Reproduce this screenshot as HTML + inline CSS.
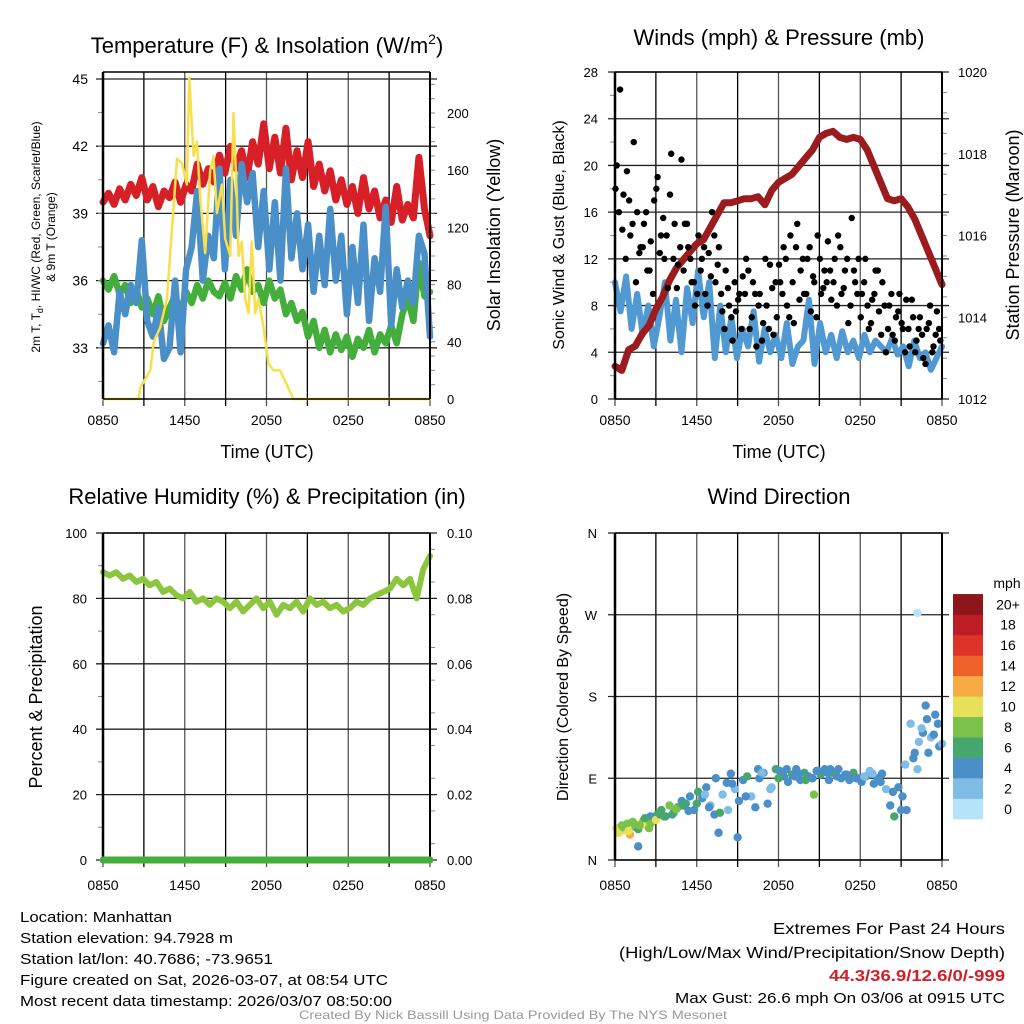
<!DOCTYPE html>
<html><head><meta charset="utf-8"><style>
html,body{margin:0;padding:0;background:#fff}
svg{display:block;font-family:"Liberation Sans",sans-serif}
</style></head><body>
<svg id="s" width="1024" height="1024" viewBox="0 0 1024 1024" xmlns="http://www.w3.org/2000/svg">
<rect width="1024" height="1024" fill="#fff"/>
<g id="g"></g>
</svg>
<script>
// ---- data ----
const xTickLabels = ["0850","1450","2050","0250","0850"];
const tempTicks = [45,42,39,36,33];
const solarTicks = [0,40,80,120,160,200];
const tempRed = [39.5,39.9,39.4,40.1,39.6,40.3,39.8,40.6,39.6,40.2,39.3,40.0,39.7,40.4,39.5,40.3,40.0,41.2,40.3,41.0,40.4,41.6,40.8,42.0,41.0,41.8,40.6,42.2,41.2,43.0,41.0,42.4,40.8,42.8,40.5,41.8,40.6,42.2,40.2,41.2,40.0,40.9,39.6,40.5,39.4,40.2,39.0,40.6,39.2,40.0,38.8,39.6,38.6,40.2,38.7,39.4,38.8,41.5,39.2,38.0];
const tempBlue = [33.2,34.0,32.8,35.5,34.5,35.8,35.0,37.8,34.2,33.5,34.8,32.5,33.0,36.0,32.8,36.5,37.5,40.0,36.0,38.0,37.0,41.0,36.5,40.5,38.0,41.2,39.5,40.8,37.5,40.0,36.5,39.5,36.0,41.0,37.0,39.0,36.5,38.5,35.5,38.0,35.8,39.2,36.0,38.0,34.5,37.5,35.0,38.5,34.2,37.0,35.5,39.3,34.0,36.5,34.8,36.0,35.0,38.0,37.2,33.5];
const dewGreen = [36.0,35.6,36.2,35.4,35.8,35.0,35.6,34.8,35.2,34.5,35.3,34.2,34.8,35.3,34.6,35.5,35.0,35.8,35.2,36.0,35.5,35.3,35.9,35.2,36.2,35.6,36.5,35.5,35.8,35.0,36.0,35.2,35.6,34.5,35.0,34.2,34.6,33.5,34.2,33.0,33.8,32.8,33.6,32.9,33.5,32.6,33.4,33.0,33.8,32.8,33.6,33.2,34.0,33.2,34.5,35.2,34.2,36.8,35.3,35.5];
const solarHours = [0,2.6,2.74,3.47,3.72,4.2,4.69,5.06,5.43,5.79,6.16,6.33,6.65,6.89,7.14,7.5,7.87,8.11,8.36,8.73,8.97,9.34,9.58,9.83,9.95,10.19,10.44,10.68,10.92,11.17,11.41,11.78,12.15,12.51,13.0,13.49,13.98,24];
const solarVals = [0,0,8,20,40,50,70,118,168,165,150,225,170,180,140,102,160,170,130,150,112,100,200,140,100,110,70,60,110,60,70,50,25,20,20,10,0,0];
const windTicks = [0,4,8,12,16,20,24,28];
const presTicks = [1012,1014,1016,1018,1020];
const windBlue = [10.0,7.5,10.5,6.0,9.0,5.5,8.0,4.5,7.0,10.0,5.0,8.5,4.0,9.5,6.5,11.0,7.0,10.0,3.5,8.0,4.0,7.0,3.5,6.0,4.5,7.5,3.2,6.0,4.0,5.5,3.5,6.5,3.0,4.5,5.0,8.5,3.0,6.5,4.0,5.5,3.5,5.8,4.0,5.0,3.5,5.5,4.0,5.0,4.5,4.0,5.2,3.8,4.5,2.8,5.0,3.5,4.0,2.5,3.5,4.5];
const pressure = [1012.8,1012.7,1013.2,1013.3,1013.6,1013.8,1014.2,1014.5,1014.9,1015.2,1015.4,1015.6,1015.8,1015.9,1016.2,1016.5,1016.8,1016.8,1016.85,1016.9,1016.9,1016.95,1016.75,1017.1,1017.3,1017.4,1017.5,1017.7,1017.9,1018.1,1018.4,1018.5,1018.55,1018.4,1018.35,1018.4,1018.35,1018.1,1017.7,1017.3,1016.9,1016.85,1016.9,1016.7,1016.4,1016.0,1015.6,1015.2,1014.8];
const gusts = [20,26.5,17.5,19.5,14,22,16,13, 15,11,13.5,17,19,14,12,9.5, 21,15,11.5,20.5,15,13,10,8, 14,12,9,12.5,16,10,13,7.5, 11,8,5,7.5,9,10.5,12,6, 10,4.5,9,6.5,8,11.5,5.5,7, 10,13,8,14,6.5,15,11,9, 12,7.5,10,14,9,11,13.5,8.5, 12,14,9,11,6.5,15.5,10,12, 9,12,6,8.5,11,7.5,10,4, 8,5.5,7,9,6,8.5,4.5,7, 5,7,3.5,6,8,4.5,7.5,5];
const gusts2 = [18,16,14.5,12,17,15,10,12.5, 13,16,11,9,18,12.5,15.5,14, 17.5,12,9.5,13,11,15,12,10, 9,11,13,8,10.5,14,11.5,9, 6,9.5,7,10,8.5,6,9,11, 7,9,8,5,12,6,9.5,10, 11.5,9,12,7,10,13,8.5,12, 9,13,10.5,7,12,9.5,10,11, 10,8,13,9.5,12,8,11,9, 7,10,8,6.5,9,11,5.5,8, 6,9,5,7.5,6.5,4,6,8.5, 4,6,5.5,3,6.5,4,5.5,6];
const rhTicks = [0,20,40,60,80,100];
const precipTicks = ["0.00","0.02","0.04","0.06","0.08","0.10"];
const rh = [88,87,88,86,87,85,86,84,85,82,83,81,80,82,79,80,78,80,79,77,79,76,78,80,77,79,75,78,77,79,76,80,78,79,77,78,76,77,79,78,80,81,82,83,86,84,86,80,89,93];
const dirLabels = ["N","E","S","W","N"];
const dirHours = [0.1,0.3,0.5,0.7,0.9,1.1,1.3,1.5,1.7,1.9,2.1,2.3,2.5,2.7,2.9,3.1,3.4,3.7,4.0,4.3,4.6,4.9,5.2,5.5,5.8,6.1,6.4,6.7,7.0,7.3,7.6,7.9,8.2,8.5,8.8,9.1,9.4,9.7,10.0,10.3,10.6,10.9,11.2,11.5,11.8,12.1,12.4,12.7,13.0,13.3,13.6,13.9,14.2,14.5,14.8,15.1,15.4,15.7,16.0,16.3,16.6,16.9,17.2,17.5,17.8,18.1,18.4,18.7,19.0,19.3,19.6,19.9,20.2,20.5,20.8,21.1,21.4,21.7,22.0,22.3,22.6,22.9,23.2,23.5,23.8,1.7,2.6,4.2,5.1,6.6,7.4,8.3,9.0,10.5,11.4,13.5,14.6,15.8,17.1,18.9,21.0,22.2,23.0,0.2,0.6,1.0,1.4,1.8,2.2,2.6,3.0,3.3,3.6,4.5,5.0,5.4,6.0,6.9,7.7,8.6,9.6,10.8,12.0,12.6,13.2,14.0,14.9,15.6,16.4,17.0,17.7,18.3,19.5,20.4,21.3,21.9,22.5,22.8,23.4,23.7,24.0];
const dirVals = [35,30,38,33,40,28,42,36,34,40,44,38,35,42,45,50,55,48,60,52,58,65,62,70,55,75,68,80,60,50,30,72,85,95,78,65,88,92,70,58,90,96,62,80,100,98,92,86,94,100,88,96,92,90,98,94,100,88,96,92,90,94,88,96,90,86,92,98,84,90,95,78,60,48,80,70,55,150,118,130,140,155,135,160,125,15,48,50,60,72,90,55,25,100,78,95,72,100,92,95,55,100,118,30,36,32,40,38,46,40,44,50,48,56,60,54,62,58,52,84,70,96,90,100,92,88,98,96,100,94,90,92,86,75,105,112,145,170,138,150,128,140];
const dirSpeeds = [9,10,8,9,7,11,8,7,6,9,7,10,8,6,7,5,6,4,7,4,5,4,6,4,3,5,4,3,2,3,4,2,4,3,2,4,3,6,2,3,4,3,4,2,6,4,3,4,5,3,4,6,4,3,4,5,4,3,6,4,4,3,4,5,4,3,4,2,4,3,4,2,4,5,3,4,3,1,4,2,3,4,2,3,4,4,4,6,4,2,3,2,3,4,2,4,7,3,4,2,4,1,4,10,8,9,7,8,6,7,9,6,5,7,6,4,5,4,6,3,4,2,5,4,4,6,4,3,4,4,3,2,4,4,2,4,2,3,4,3,2];
const cbarLabels = ["0","2","4","6","8","10","12","14","16","18","20+"];
const cbarColors = ["#b5e4f8","#7fbce6","#4a8fc7","#47a66b","#7bc24a","#e6e05a","#f6ab45","#ee6129","#dd3328","#bd1d24","#8e1519"];

// ---- helpers ----
const NS="http://www.w3.org/2000/svg";
const G=document.getElementById('g');
function mk(tag,attrs,parent){const e=document.createElementNS(NS,tag);for(const k in attrs)e.setAttribute(k,attrs[k]);(parent||G).appendChild(e);return e;}
function txt(x,y,s,size,anchor,name,extra){const e=mk('text',Object.assign({x:x,y:y,'font-size':size,'text-anchor':anchor||'middle',fill:'#000'},extra||{}));e.textContent=s;


return e;}
function vtxt(x,y,s,size,name){return txt(x,y,s,size,'middle',name,{transform:'rotate(-90 '+x+' '+y+')'});}
function pathFrom(xs,ys){let d='';for(let i=0;i<xs.length;i++)d+=(i?'L':'M')+xs[i].toFixed(1)+' '+ys[i].toFixed(1);return d;}

function frame(X0,X1,Y0,Y1,hLines,name){
  const g=mk('g',{});
  
  
  for(let k=0;k<=8;k++){const x=X0+(X1-X0)*k/8;mk('line',{x1:x,x2:x,y1:Y0,y2:Y1+7,stroke:k%2?'#000':'#555','stroke-width':1.3},g);}
  hLines.forEach(y=>mk('line',{x1:X0-7,x2:X1+7,y1:y,y2:y,stroke:'#222','stroke-width':1.3},g));
  return g;
}
function border(X0,X1,Y0,Y1){mk('line',{x1:X0,x2:X0,y1:Y0,y2:Y1,stroke:'#000','stroke-width':2.5});mk('line',{x1:X1,x2:X1,y1:Y0,y2:Y1,stroke:'#000','stroke-width':2});mk('line',{x1:X0,x2:X1,y1:Y0,y2:Y0,stroke:'#000','stroke-width':1.5});mk('line',{x1:X0,x2:X1,y1:Y1,y2:Y1,stroke:'#000','stroke-width':1.5});}
function xlabels(X0,X1,y){xTickLabels.forEach((s,i)=>txt(X0+(X1-X0)*i/4,y,s,14,'middle','x-tick-label'));}
function series(d,color,w,name){const p=mk('path',{d:d,fill:'none',stroke:color,'stroke-width':w,'stroke-linejoin':'round','stroke-linecap':'round'});

}

// ---- Panel 1: temperature ----
{const X0=103,X1=430,Y1=399,Y0=72;
 const xs=h=>X0+(X1-X0)*h/24;
 const ty=t=>79+(45-t)*22.4;
 const sy=v=>Y1-v*(286/200);
 frame(X0,X1,Y0,Y1,tempTicks.map(ty),'temp-grid');
 for(let t=31.5;t<45;t+=1.5)mk('line',{x1:X0,x2:X0-5,y1:ty(t),y2:ty(t),stroke:'#888'});
 for(let v=10;v<=220;v+=10)mk('line',{x1:X1,x2:X1+5,y1:sy(v),y2:sy(v),stroke:'#888'});
 const ti=a=>a.map((_,i)=>xs(i*24/(a.length-1)));
 series(pathFrom(ti(dewGreen),dewGreen.map(ty)),'#44ae3c',6.5,'dewpoint-line');
 series(pathFrom(ti(tempRed),tempRed.map(ty)),'#d61f26',7,'temperature-line');
 series(pathFrom(ti(tempBlue),tempBlue.map(ty)),'#4a8fc7',6.5,'heat-index-line');
 series(pathFrom(solarHours.map(xs),solarVals.map(sy)),'#f9df4a',2.5,'insolation-line');
 border(X0,X1,Y0,Y1);
 tempTicks.forEach(t=>txt(88,ty(t)+5,String(t),14,'end','temp-tick-label'));
 solarTicks.forEach(v=>txt(447,sy(v)+5,String(v),13,'start','solar-tick-label'));
 xlabels(X0,X1,425);
 const t1=txt(267,53,'Temperature (F) & Insolation (W/m',22,'middle','temp-title');
 const sp=mk('tspan',{dy:-9,'font-size':14},t1);sp.textContent='2';
 const sp2=mk('tspan',{dy:9},t1);sp2.textContent=')';
 txt(267,458,'Time (UTC)',18,'middle','temp-x-title');
 vtxt(500,235,'Solar Insolation (Yellow)',18,'solar-y-title');
 const a=txt(40,237,'2m T, T',12,'middle','temp-y-title',{transform:'rotate(-90 40 237)'});
 const sb=mk('tspan',{dy:3,'font-size':9},a);sb.textContent='d';
 const sc=mk('tspan',{dy:-3},a);sc.textContent=', HI/WC (Red, Green, Scarlet/Blue)';
 txt(55,237,'& 9m T (Orange)',12,'middle','temp-y-title-2',{transform:'rotate(-90 55 237)'});
}

// ---- Panel 2: winds ----
{const X0=615,X1=942,Y0=72,Y1=399;
 const xs=h=>X0+(X1-X0)*h/24;
 const wy=v=>Y1-v*(327/28);
 const py=p=>Y1-(p-1012)*(327/8);
 frame(X0,X1,Y0,Y1,windTicks.map(wy),'wind-grid');
 for(let v=2;v<28;v+=4)mk('line',{x1:X0,x2:X0-5,y1:wy(v),y2:wy(v),stroke:'#888'});
 for(let p=1012.5;p<1020;p+=0.5)mk('line',{x1:X1,x2:X1+5,y1:py(p),y2:py(p),stroke:'#888'});
 series(pathFrom(windBlue.map((_,i)=>xs(i*24/(windBlue.length-1))),windBlue.map(wy)),'#5199d3',6,'sonic-wind-line');
 series(pathFrom(pressure.map((_,i)=>xs(i*24/(pressure.length-1))),pressure.map(py)),'#9b1b1e',7,'pressure-line');
 gusts.forEach((v,i)=>{const c=mk('circle',{cx:xs((i+0.5)*24/gusts.length),cy:wy(v),r:3.2,fill:'#000'});
  
  });
 gusts2.forEach((v,i)=>{const c=mk('circle',{cx:xs((i+0.15)*24/gusts2.length),cy:wy(v),r:3.2,fill:'#000'});
  
  });
 border(X0,X1,Y0,Y1);
 windTicks.forEach(v=>txt(598,wy(v)+5,String(v),13,'end','wind-tick-label'));
 presTicks.forEach(p=>txt(958,py(p)+5,String(p),13,'start','pressure-tick-label'));
 xlabels(X0,X1,425);
 txt(779,45,'Winds (mph) & Pressure (mb)',22,'middle','wind-title');
 txt(779,458,'Time (UTC)',18,'middle','wind-x-title');
 vtxt(564,235,'Sonic Wind & Gust (Blue, Black)',16,'wind-y-title');
 vtxt(1019,235,'Station Pressure (Maroon)',18,'pressure-y-title');
}

// ---- Panel 3: RH ----
{const X0=103,X1=430,Y0=533,Y1=860;
 const xs=h=>X0+(X1-X0)*h/24;
 const ry=v=>Y1-v*3.27;
 frame(X0,X1,Y0,Y1,rhTicks.map(ry),'rh-grid');
 for(let v=10;v<100;v+=20)mk('line',{x1:X0,x2:X0-5,y1:ry(v),y2:ry(v),stroke:'#888'});
 for(let v=5;v<100;v+=10)mk('line',{x1:X1,x2:X1+5,y1:ry(v),y2:ry(v),stroke:'#888'});
 series(pathFrom(rh.map((_,i)=>xs(i*24/(rh.length-1))),rh.map(ry)),'#8cc63f',6,'rh-line');
 border(X0,X1,Y0,Y1);
 series('M'+X0+' '+Y1+'L'+X1+' '+Y1,'#44ae3c',7,'precip-line');
 rhTicks.forEach(v=>txt(87,ry(v)+5,String(v),13,'end','rh-tick-label'));
 precipTicks.forEach((s,i)=>txt(447,ry(i*20)+5,s,13,'start','precip-tick-label'));
 xlabels(X0,X1,890);
 txt(267,504,'Relative Humidity (%) & Precipitation (in)',22,'middle','rh-title');
 vtxt(42,697,'Percent & Precipitation',18,'rh-y-title');
}

// ---- Panel 4: wind direction ----
{const X0=615,X1=942,Y0=533,Y1=860;
 const xs=h=>X0+(X1-X0)*h/24;
 const dy=d=>Y1-d*(327/360);
 frame(X0,X1,Y0,Y1,[0,90,180,270,360].map(dy),'direction-grid');
 const col=s=>cbarColors[Math.min(10,Math.max(0,Math.round((s===undefined?4:s)/2)))];
 dirHours.forEach((h,i)=>{const c=mk('circle',{cx:xs(h),cy:dy(dirVals[i]),r:4.2,fill:col(dirSpeeds[i])});
  
  });
 const lone=mk('circle',{cx:xs(22.2),cy:dy(272),r:4.2,fill:cbarColors[0]});
 
 
 border(X0,X1,Y0,Y1);
 dirLabels.forEach((s,i)=>txt(597,dy(i*90)+5,s,13,'end','direction-tick-label'));
 xlabels(X0,X1,890);
 txt(779,504,'Wind Direction',22,'middle','direction-title');
 vtxt(568,697,'Direction (Colored By Speed)',16,'direction-y-title');
 const bh=20.45;
 cbarColors.forEach((c,i)=>{const r=mk('rect',{x:953,y:819-(i+1)*bh,width:30,height:bh+0.3,fill:c});
  
  
  txt(1008,819-(i+0.5)*bh+5,cbarLabels[i],14,'middle','colorbar-label');});
 txt(1007,588,'mph',14,'middle','colorbar-title');
}

// ---- footer ----
const L=["Location: Manhattan","Station elevation: 94.7928 m","Station lat/lon: 40.7686; -73.9651","Figure created on Sat, 2026-03-07, at 08:54 UTC","Most recent data timestamp: 2026/03/07 08:50:00"];
const LW=[152,213,253,368,372];
L.forEach((s,i)=>txt(20,922+i*21,s,15,'start','station-info-line',{textLength:LW[i],lengthAdjust:'spacingAndGlyphs'}));
txt(1005,934,'Extremes For Past 24 Hours',15.5,'end','extremes-title',{textLength:232,lengthAdjust:'spacingAndGlyphs'});
txt(1005,958,'(High/Low/Max Wind/Precipitation/Snow Depth)',15.5,'end','extremes-legend',{textLength:386,lengthAdjust:'spacingAndGlyphs'});
txt(1005,981,'44.3/36.9/12.6/0/-999',15.5,'end','extremes-values',{fill:'#d21f26','font-weight':'bold',textLength:176,lengthAdjust:'spacingAndGlyphs'});
txt(1005,1003,'Max Gust: 26.6 mph On 03/06 at 0915 UTC',15,'end','max-gust',{textLength:330,lengthAdjust:'spacingAndGlyphs'});
txt(513,1019,'Created By Nick Bassill Using Data Provided By The NYS Mesonet',12,'middle','credit',{fill:'#999',textLength:428,lengthAdjust:'spacingAndGlyphs'});
</script>
</body></html>
